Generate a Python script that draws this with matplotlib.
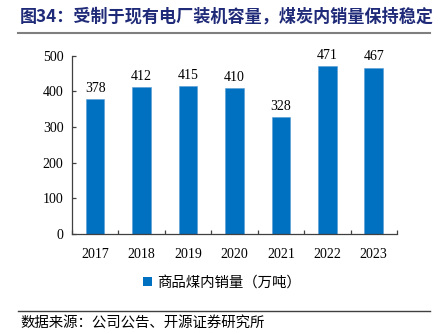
import matplotlib
matplotlib.use("Agg")
import matplotlib.pyplot as plt
from matplotlib.patches import Patch
from matplotlib.lines import Line2D

years = ["2017", "2018", "2019", "2020", "2021", "2022", "2023"]
sales = [378, 412, 415, 410, 328, 471, 467]
yticks = [0, 100, 200, 300, 400, 500]
title = "图34：受制于现有电厂装机容量，煤炭内销量保持稳定"
legend_label = "商品煤内销量（万吨）"
source = "数据来源：公司公告、开源证券研究所"

CJK = ["Noto Sans CJK SC", "DejaVu Sans"]
SERIF = ["Liberation Serif", "DejaVu Serif"]
bar_color = "#0070C0"

fig = plt.figure(figsize=(4.44, 3.34), dpi=100)
ax = fig.add_axes([0.162, 0.299, 0.732, 0.534])

x = list(range(len(years)))
bars = ax.bar(x, sales, width=0.4, color=bar_color, edgecolor="#5B9BD5", linewidth=0.4, zorder=2)
for xi, v in zip(x, sales):
    ax.annotate(str(v), (xi, v), xytext=(0, 3), textcoords="offset points",
                ha="center", va="bottom", fontsize=10, family=SERIF, color="#000000")

ax.set_xlim(-0.5, len(years) - 0.5)
ax.set_ylim(0, 500)
ax.set_yticks(yticks)
ax.set_yticklabels([str(t) for t in yticks], family=SERIF, fontsize=10)
ax.set_xticks(x)
ax.set_xticklabels(years, family=SERIF, fontsize=10)
ax.tick_params(axis="x", length=0, pad=10)
# boundary ticks on x axis
ax.set_xticks([i + 0.5 for i in range(-1, len(years))], minor=True)
ax.tick_params(axis="x", which="minor", direction="in", length=3, color="#404040", width=0.9)
ax.tick_params(axis="y", direction="in", length=3, color="#404040", width=0.9, pad=6)
for s in ["top", "right"]:
    ax.spines[s].set_visible(False)
for s in ["left", "bottom"]:
    ax.spines[s].set_color("#404040")
    ax.spines[s].set_linewidth(0.9)

fig.text(20 / 444, 1 - 17 / 334, title, fontsize=12.3, fontweight="bold", family=CJK,
         color="#1F2A78", ha="left", va="center")
fig.add_artist(Line2D([18 / 444, 430 / 444], [1 - 33 / 334, 1 - 33 / 334],
                      transform=fig.transFigure, color="#7F7F7F", linewidth=1.5))
fig.add_artist(Line2D([18 / 444, 430 / 444], [1 - 311 / 334, 1 - 311 / 334],
                      transform=fig.transFigure, color="#404040", linewidth=1.0))
fig.text(20 / 444, 1 - 323 / 334, source, fontsize=10.4, family=CJK, color="#000000",
         ha="left", va="center")

leg = fig.legend(handles=[Patch(facecolor=bar_color, edgecolor="none", label=legend_label)],
                 loc="center", bbox_to_anchor=(222 / 444, 1 - 283 / 334), frameon=False,
                 handlelength=0.6, handleheight=0.6, handletextpad=0.4,
                 prop={"family": CJK, "size": 10.4})

fig.savefig("out.png", dpi=100)
